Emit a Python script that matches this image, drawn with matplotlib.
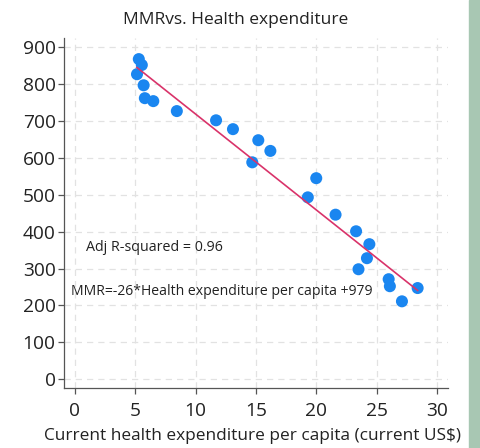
import matplotlib
matplotlib.use("Agg")
import matplotlib.pyplot as plt
from matplotlib.patches import Rectangle
import numpy as np

# health expenditure per capita (current US$) vs MMR
spend = [5.3, 5.55, 5.15, 5.7, 5.8, 6.5, 8.45, 11.7, 13.1, 15.2, 16.2, 14.7,
         20.0, 19.3, 21.6, 23.3, 24.4, 24.2, 23.5, 26.0, 26.1, 27.1, 28.4]
mmr = [868, 852, 827, 797, 762, 754, 727, 702, 678, 648, 619, 588,
       545, 493, 446, 401, 366, 328, 298, 271, 252, 211, 247]
slope = -26
intercept = 979
xticks = [0, 5, 10, 15, 20, 25, 30]
yticks = [0, 100, 200, 300, 400, 500, 600, 700, 800, 900]

plt.rcParams["font.family"] = ["Open Sans", "DejaVu Sans"]

fig = plt.figure(figsize=(4.81, 4.48), dpi=100)
ax = fig.add_axes([0.133, 0.134, 0.798, 0.781])

ax.grid(True, color="#e2e2e2", linestyle=(0, (5, 4)), lw=0.9)
ax.set_axisbelow(True)

ax.scatter(spend, mmr, s=75, color="#1a86f0", edgecolors="none", zorder=3)
xs = np.array([min(spend), max(spend)])
ax.plot(xs, slope * xs + intercept, color="#d9336a", lw=1.2, zorder=4)

ax.set_xlim(-0.9, 30.9)
ax.set_ylim(-24, 925)
ax.set_xticks(xticks)
ax.set_yticks(yticks)
ax.tick_params(axis="both", labelsize=13.8, color="#555555", length=4, width=0.9,
               labelcolor="#222222")
ax.tick_params(axis="x", pad=6)
ax.tick_params(axis="y", pad=2)

for s in ["top", "right"]:
    ax.spines[s].set_visible(False)
for s in ["left", "bottom"]:
    ax.spines[s].set_color("#555555")
    ax.spines[s].set_linewidth(0.9)

fig.text(236 / 481, 1 - 20 / 448, "MMRvs. Health expenditure", fontsize=12.5,
         ha="center", va="center", color="#222222")
fig.text(253 / 481, 1 - 436 / 448, "Current health expenditure per capita (current US$)",
         fontsize=12.4, ha="center", va="center", color="#222222")

ax.text(0.95, 358, "Adj R-squared = 0.96", fontsize=10.3, va="center", color="#222222")
ax.text(-0.3, 238, "MMR=-26*Health expenditure per capita +979",
        fontsize=10.1, va="center", color="#222222")

fig.patches.append(Rectangle((469 / 481, 0), 12 / 481, 1, transform=fig.transFigure,
                             color="#a8c7b3", zorder=0))

fig.savefig("out.png", dpi=100)
